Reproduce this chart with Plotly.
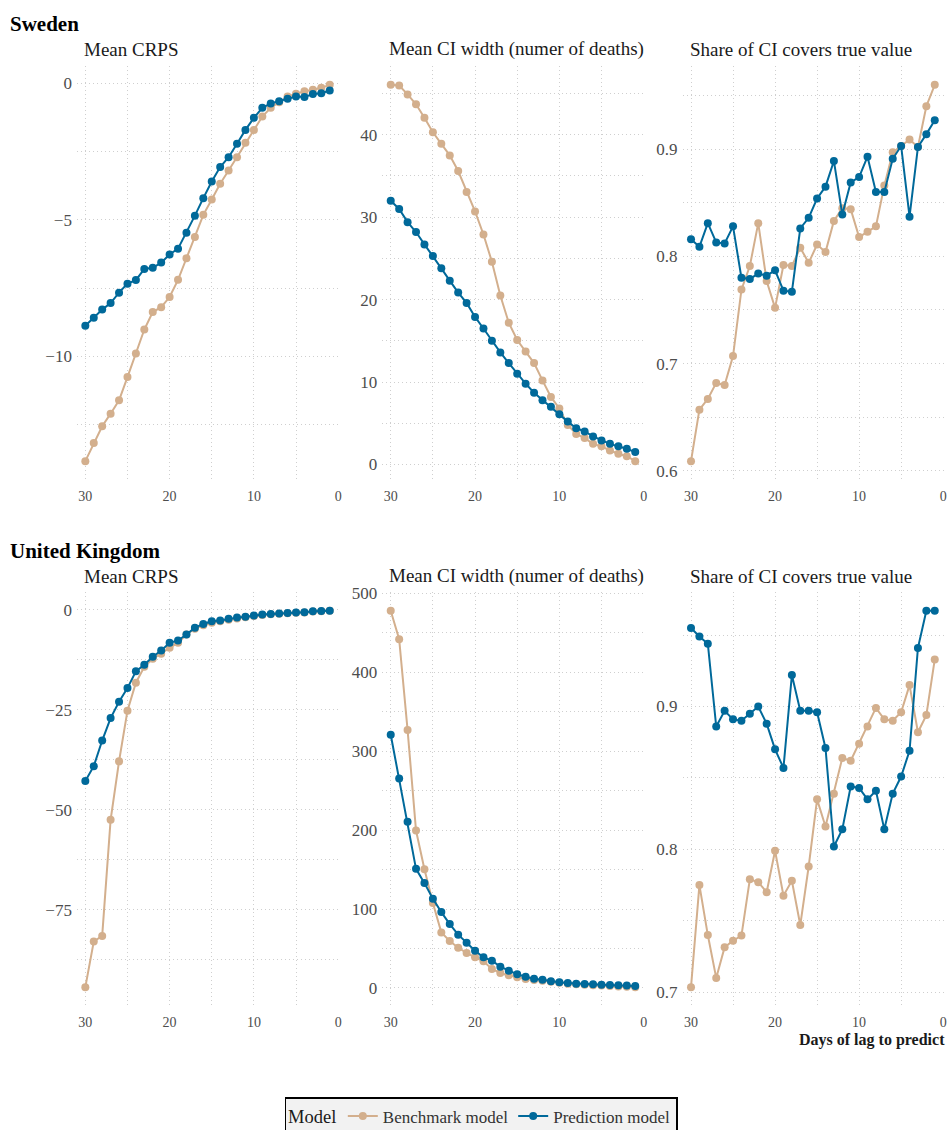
import plotly.graph_objects as go

lags = list(range(30, 0, -1))

se_crps_bench = [-13.84, -13.17, -12.56, -12.10, -11.61, -10.76, -9.90, -9.02, -8.38, -8.20,
                 -7.83, -7.20, -6.41, -5.63, -4.82, -4.26, -3.68, -3.20, -2.71, -2.18,
                 -1.71, -1.22, -0.90, -0.70, -0.49, -0.39, -0.30, -0.24, -0.17, -0.06]
se_crps_pred = [-8.88, -8.59, -8.29, -8.05, -7.67, -7.34, -7.21, -6.80, -6.76, -6.57,
                -6.27, -6.06, -5.48, -4.85, -4.21, -3.60, -3.07, -2.71, -2.22, -1.71,
                -1.27, -0.90, -0.74, -0.66, -0.57, -0.49, -0.51, -0.40, -0.37, -0.27]
se_ciw_bench = [46.06, 45.98, 44.9, 43.7, 42.06, 40.3, 38.9, 37.5, 35.6, 33.05,
                30.7, 27.9, 24.6, 20.5, 17.2, 15.1, 13.7, 12.3, 10.2, 8.2,
                6.8, 4.8, 3.7, 3.2, 2.5, 2.2, 1.7, 1.3, 1.0, 0.4]
se_ciw_pred = [32.0, 31.0, 29.4, 28.2, 26.7, 25.3, 23.8, 22.3, 20.85, 19.6,
               17.9, 16.5, 15.0, 13.6, 12.3, 11.0, 9.8, 8.7, 7.8, 7.0,
               6.1, 5.2, 4.4, 4.0, 3.4, 2.9, 2.5, 2.2, 1.9, 1.5]
se_cov_bench = [0.609, 0.657, 0.667, 0.682, 0.680, 0.707, 0.769, 0.791, 0.831, 0.777,
                0.752, 0.792, 0.791, 0.808, 0.794, 0.811, 0.804, 0.833, 0.845, 0.844,
                0.818, 0.823, 0.828, 0.866, 0.897, 0.903, 0.909, 0.902, 0.940, 0.960]
se_cov_pred = [0.816, 0.809, 0.831, 0.813, 0.812, 0.828, 0.780, 0.779, 0.784, 0.782,
               0.787, 0.768, 0.767, 0.826, 0.836, 0.854, 0.865, 0.889, 0.839, 0.869,
               0.874, 0.893, 0.860, 0.860, 0.891, 0.903, 0.837, 0.902, 0.914, 0.927]

uk_crps_bench = [-94.3, -82.9, -81.5, -52.5, -37.9, -25.25, -18.25, -14.3, -12.25, -11.0,
                 -9.5, -8.3, -6.2, -4.75, -3.9, -3.3, -2.9, -2.5, -2.2, -1.9,
                 -1.6, -1.35, -1.15, -1.05, -0.9, -0.8, -0.7, -0.45, -0.4, -0.3]
uk_crps_pred = [-42.8, -39.1, -32.7, -27.1, -23.0, -19.6, -15.4, -13.75, -11.75, -10.2,
                -8.3, -7.7, -6.2, -4.5, -3.6, -2.9, -2.7, -2.3, -2.0, -1.8,
                -1.5, -1.25, -1.1, -1.0, -0.85, -0.75, -0.65, -0.4, -0.35, -0.3]
uk_ciw_bench = [477.7, 441.8, 326.7, 199.4, 150.5, 107.5, 70.4, 59.4, 51.0, 44.3,
                38.8, 33.7, 24.0, 19.0, 16.0, 13.5, 11.4, 10.1, 9.0, 7.8,
                6.5, 5.5, 4.8, 4.0, 3.5, 3.0, 2.5, 2.0, 1.5, 1.0]
uk_ciw_pred = [320.8, 265.2, 210.4, 150.9, 132.8, 113.0, 96.1, 80.9, 67.5, 57.3,
               47.2, 38.8, 34.6, 27.0, 21.9, 17.3, 14.3, 11.8, 10.5, 8.4,
               7.2, 6.3, 5.5, 5.1, 4.6, 4.2, 3.8, 3.4, 3.0, 2.5]
uk_cov_bench = [0.7035, 0.775, 0.740, 0.710, 0.7315, 0.736, 0.7396, 0.779, 0.777, 0.770,
                0.799, 0.7676, 0.778, 0.747, 0.788, 0.835, 0.816, 0.839, 0.864, 0.862,
                0.874, 0.886, 0.899, 0.891, 0.890, 0.896, 0.915, 0.882, 0.894, 0.933]
uk_cov_pred = [0.955, 0.949, 0.944, 0.886, 0.897, 0.891, 0.890, 0.895, 0.900, 0.888,
               0.870, 0.857, 0.922, 0.897, 0.897, 0.896, 0.871, 0.802, 0.814, 0.844,
               0.843, 0.835, 0.841, 0.814, 0.839, 0.851, 0.869, 0.941, 0.967, 0.967]

countries = ["Sweden", "United Kingdom"]
panel_titles = ["Mean CRPS", "Mean CI width (numer of deaths)", "Share of CI covers true value"]
series_names = ["Benchmark model", "Prediction model"]
x_ticks = [30, 20, 10, 0]

panels = [
    [(se_crps_bench, se_crps_pred, 5, 2.5), (se_ciw_bench, se_ciw_pred, 10, 5), (se_cov_bench, se_cov_pred, 0.1, 0.05)],
    [(uk_crps_bench, uk_crps_pred, 25, 12.5), (uk_ciw_bench, uk_ciw_pred, 100, 50), (uk_cov_bench, uk_cov_pred, 0.1, 0.05)],
]

colors = ["#D3AF8D", "#00699A"]
FONT = "Liberation Serif"
W, H = 948, 1160   # figure taller than the 1130 viewport so the legend box is cut at the bottom, as in the reference

col_px = [(76.9, 339.0), (382.3, 644.5), (682.6, 944.0)]
row_px = [(66.0, 480.0), (592.0, 1006.0)]

fig = go.Figure()
grid = dict(gridcolor="#cfcfcf", griddash="1px,3px", gridwidth=1)

k = 0
for r in range(2):
    for c in range(3):
        k += 1
        xa = "x" if k == 1 else f"x{k}"
        ya = "y" if k == 1 else f"y{k}"
        bench, pred, dt, mdt = panels[r][c]
        for i, (vals, name) in enumerate(zip([bench, pred], series_names)):
            fig.add_trace(go.Scatter(
                x=lags, y=vals, mode="lines+markers", name=name,
                line=dict(color=colors[i], width=2),
                marker=dict(color=colors[i], size=8),
                xaxis=xa, yaxis=ya, showlegend=(k == 1), legendgroup=name))
        lo = min(min(bench), min(pred))
        hi = max(max(bench), max(pred))
        pad = 0.05 * (hi - lo)
        x0, x1 = col_px[c]
        y0, y1 = row_px[r]
        xkey = "xaxis" if k == 1 else f"xaxis{k}"
        ykey = "yaxis" if k == 1 else f"yaxis{k}"
        fig.update_layout(**{
            xkey: dict(domain=[x0 / W, x1 / W], anchor=ya, range=[31.0, -0.1],
                       tickvals=x_ticks, showline=False, zeroline=False, automargin=False,
                       tickfont=dict(family=FONT, size=14, color="#4d4d4d"),
                       ticks="", ticklabelstandoff=6, showgrid=True, **grid,
                       minor=dict(dtick=5, tick0=0, showgrid=True, **grid)),
            ykey: dict(domain=[1 - y1 / H, 1 - y0 / H], anchor=xa,
                       range=[lo - pad, hi + pad], dtick=dt, tick0=0,
                       showline=False, zeroline=False, automargin=False,
                       tickfont=dict(family=FONT, size=17, color="#4d4d4d"),
                       ticks="", ticklabelstandoff=4, showgrid=True, **grid,
                       minor=dict(dtick=mdt, tick0=0, showgrid=True, **grid)),
        })

annotations = []
country_y = [24, 551]
title_y = [49, 576]
for r in range(2):
    annotations.append(dict(text=f"<b>{countries[r]}</b>", x=8 / W, y=1 - country_y[r] / H,
                            xref="paper", yref="paper", xanchor="left", yanchor="middle",
                            showarrow=False, font=dict(family=FONT, size=21, color="#000000")))
    for c in range(3):
        annotations.append(dict(text=panel_titles[c], x=(col_px[c][0] + 5) / W, y=1 - title_y[r] / H,
                                xref="paper", yref="paper", xanchor="left", yanchor="middle",
                                showarrow=False, font=dict(family=FONT, size=19, color="#1a1a1a")))
annotations.append(dict(text="<b>Days of lag to predict</b>", x=947 / W, y=1 - 1040 / H,
                        xref="paper", yref="paper", xanchor="right", yanchor="middle",
                        showarrow=False, font=dict(family=FONT, size=16, color="#1a1a1a")))

fig.update_layout(
    width=W, height=H, margin=dict(l=0, r=0, t=0, b=0, autoexpand=False),
    paper_bgcolor="white", plot_bgcolor="white",
    annotations=annotations,
    legend=dict(orientation="h", x=481 / W, xanchor="center", y=1 - 1097 / H, yanchor="top",
                bgcolor="#f2f2f2", bordercolor="#000000", borderwidth=1.5,
                title=dict(text="Model", font=dict(family=FONT, size=18.5, color="#1a1a1a")),
                font=dict(family=FONT, size=17, color="#333333")),
)

fig.write_html("out.html", config={"displayModeBar": False})

css = ("<style>html,body{margin:0;padding:0;width:948px;height:1130px;overflow:hidden;}"
       ".plotly-graph-div{position:absolute !important;top:0;left:0;}</style>")
with open("out.html", "r", encoding="utf-8") as f:
    html = f.read()
html = html.replace("<head>", "<head>" + css, 1)
with open("out.html", "w", encoding="utf-8") as f:
    f.write(html)
